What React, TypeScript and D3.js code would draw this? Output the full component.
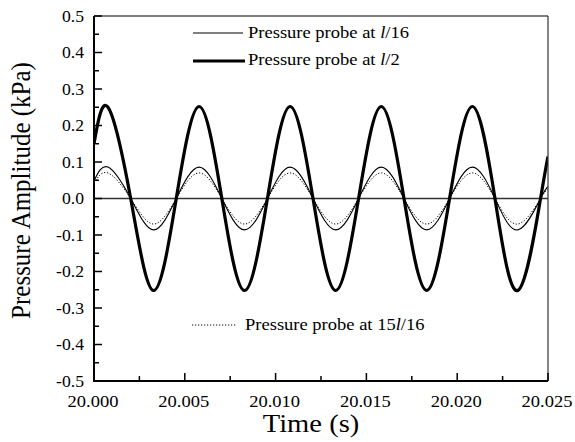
import React from "react";
import * as d3 from "d3";

// Time offsets (s) after 20.000 at which the knots of each trace are read
const knotTimes = [
  0, 0.00077, 0.00202, 0.00328, 0.00453, 0.00579, 0.00704, 0.00829, 0.00955,
  0.0108, 0.01206, 0.01331, 0.01457, 0.01582, 0.01707, 0.01832, 0.01958,
  0.02083, 0.02208, 0.02334, 0.02459, 0.025,
];

// Pressure amplitude (kPa) at probe l/16
const probeL16 = [
  0.048, 0.086, 0, -0.086, 0, 0.086, 0, -0.086, 0, 0.086, 0, -0.086, 0, 0.086,
  0, -0.086, 0, 0.086, 0, -0.086, 0, 0.032,
];

// Pressure amplitude (kPa) at probe l/2
const probeL2 = [
  0.15, 0.25, 0, -0.252, 0, 0.252, 0, -0.252, 0, 0.252, 0, -0.252, 0, 0.252,
  0, -0.252, 0, 0.252, 0, -0.252, 0, 0.115,
];

// Pressure amplitude (kPa) at probe 15l/16
const probe15L16 = [
  0.042, 0.07, 0, -0.07, 0, 0.07, 0, -0.07, 0, 0.07, 0, -0.07, 0, 0.07, 0,
  -0.07, 0, 0.07, 0, -0.07, 0, 0.024,
];

const xTicks = [0, 0.005, 0.01, 0.015, 0.02, 0.025];
const xMinorTicks = [0.0025, 0.0075, 0.0125, 0.0175, 0.0225];
const yTicks = [-0.5, -0.4, -0.3, -0.2, -0.1, 0, 0.1, 0.2, 0.3, 0.4, 0.5];
const yMinorTicks = [-0.45, -0.35, -0.25, -0.15, -0.05, 0.05, 0.15, 0.25, 0.35, 0.45];

const W = 575;
const H = 442;
const left = 94;
const right = 548;
const top = 16;
const bottom = 381;
const serif = { fontFamily: '"Liberation Serif", "Times New Roman", serif' };
// the type is set slightly wide
const wide = 1.09;

const at = (x: number, y: number, sx = wide) => `translate(${x},${y}) scale(${sx},1)`;

export default function App() {
  const x = d3.scaleLinear().domain([0, 0.025]).range([left, right]);
  const y = d3.scaleLinear().domain([-0.5, 0.5]).range([bottom, top]);

  const line = (vals: number[]) =>
    d3
      .line<number>()
      .x((_, i) => x(knotTimes[i]))
      .y((v) => y(v))
      .curve(d3.curveNatural)(vals) || "";

  return (
    <svg width={W} height={H} style={{ position: "absolute", left: 0, top: 0 }}>
      <rect width={W} height={H} fill="#fff" />
      <defs>
        <clipPath id="plotArea">
          <rect x={left} y={top} width={right - left} height={bottom - top} />
        </clipPath>
      </defs>

      {/* zero reference line */}
      <line x1={left} x2={right} y1={y(0)} y2={y(0)} stroke="#333" strokeWidth={1.5} />

      <g clipPath="url(#plotArea)" fill="none">
        <path d={line(probe15L16)} stroke="#000" strokeWidth={1} strokeDasharray="1.2,1.8" />
        <path d={line(probeL16)} stroke="#000" strokeWidth={1.1} />
        <path d={line(probeL2)} stroke="#000" strokeWidth={3.2} />
      </g>

      {/* frame */}
      <line x1={left} x2={right} y1={top} y2={top} stroke="#555" strokeWidth={1.5} />
      <line x1={right} x2={right} y1={top} y2={bottom} stroke="#333" strokeWidth={1.2} />
      <line x1={left} x2={left} y1={top} y2={bottom} stroke="#000" strokeWidth={2} />
      <line x1={left - 1} x2={right} y1={bottom} y2={bottom} stroke="#000" strokeWidth={2} />

      {/* x ticks */}
      {xTicks.map((t) => (
        <g key={"xt" + t}>
          <line x1={x(t)} x2={x(t)} y1={bottom} y2={bottom - 8} stroke="#000" strokeWidth={1.5} />
          <text transform={at(x(t) - 1, bottom + 25.5)} textAnchor="middle" fontSize={17} style={serif}>
            {(20 + t).toFixed(3)}
          </text>
        </g>
      ))}
      {xMinorTicks.map((t) => (
        <line key={"xm" + t} x1={x(t)} x2={x(t)} y1={bottom} y2={bottom - 5} stroke="#000" strokeWidth={1.5} />
      ))}

      {/* y ticks */}
      {yTicks.map((v) => (
        <g key={"yt" + v}>
          <line x1={left} x2={left + 8} y1={y(v)} y2={y(v)} stroke="#000" strokeWidth={1.5} />
          <text transform={at(left - 10, y(v) + 5.8, 1.05)} textAnchor="end" fontSize={16.8} style={serif}>
            {v.toFixed(1)}
          </text>
        </g>
      ))}
      {yMinorTicks.map((v) => (
        <line key={"ym" + v} x1={left} x2={left + 5} y1={y(v)} y2={y(v)} stroke="#000" strokeWidth={1.5} />
      ))}

      {/* axis titles */}
      <text transform={at(311, 432, 1.12)} textAnchor="middle" fontSize={25.5} style={serif}>
        Time (s)
      </text>
      <text
        transform="translate(29.5,190.5) rotate(-90) scale(1,1.07)"
        textAnchor="middle"
        fontSize={25}
        style={serif}
      >
        Pressure Amplitude (kPa)
      </text>

      {/* legend */}
      <line x1={193} x2={243} y1={33} y2={33} stroke="#000" strokeWidth={1.1} />
      <text transform={at(248, 38)} fontSize={17} style={serif}>
        Pressure probe at <tspan fontStyle="italic">l</tspan>/16
      </text>
      <line x1={193} x2={245} y1={61} y2={61} stroke="#000" strokeWidth={3.2} />
      <text transform={at(248, 65)} fontSize={17} style={serif}>
        Pressure probe at <tspan fontStyle="italic">l</tspan>/2
      </text>
      <line x1={192} x2={237} y1={325} y2={325} stroke="#000" strokeWidth={1} strokeDasharray="1.2,1.8" />
      <text transform={at(245, 330)} fontSize={17} style={serif}>
        Pressure probe at 15<tspan fontStyle="italic">l</tspan>/16
      </text>
    </svg>
  );
}
